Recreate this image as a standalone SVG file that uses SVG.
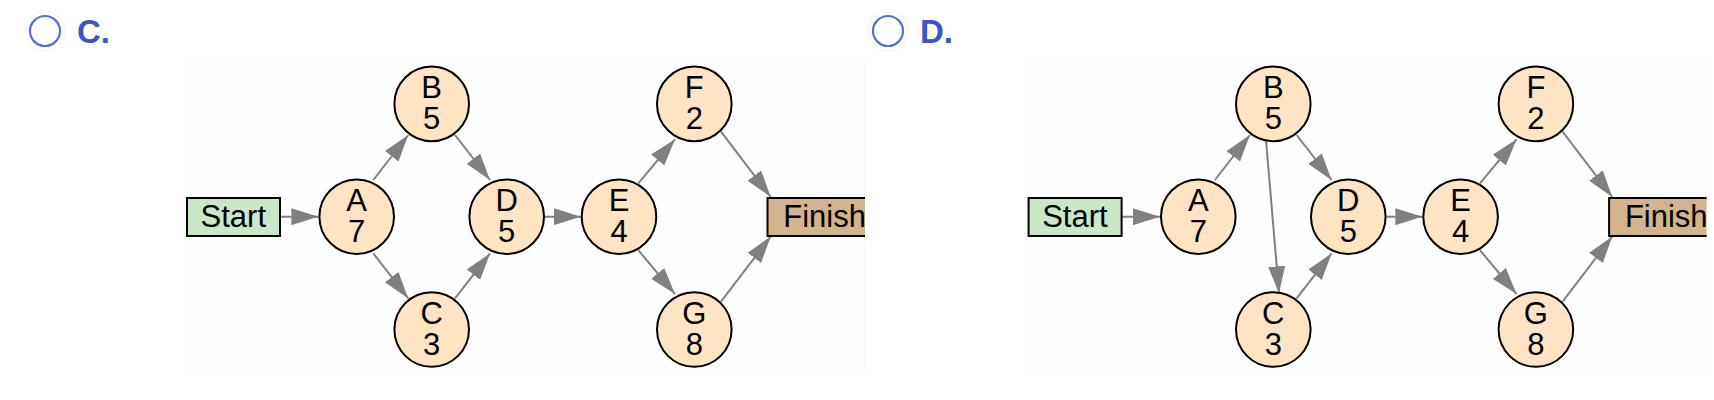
<svg xmlns="http://www.w3.org/2000/svg" width="1714" height="400" viewBox="0 0 1714 400">
<style>
.opt{font-family:"Liberation Sans",Arial,sans-serif;font-weight:bold;font-size:33px;fill:#3a56c9}
.radio{fill:none;stroke:#5670d8;stroke-width:2.2}
.halo{fill:none;stroke:#f3f3f3;stroke-width:1}
.panel{fill:#fefefe;stroke:#f4f4f4;stroke-width:1}
.n{fill:#ffe4c4;stroke:#000;stroke-width:2}
.start{fill:#cbe7c9;stroke:#000;stroke-width:2}
.finish{fill:#d2b48c;stroke:#000;stroke-width:2}
.t{font-family:"Liberation Sans",Arial,sans-serif;font-size:31px;fill:#000;text-anchor:middle}
.e{fill:none;stroke:#808080;stroke-width:2;marker-end:url(#ah)}
</style>
<defs>
<marker id="ah" markerUnits="userSpaceOnUse" markerWidth="27" markerHeight="17" refX="27" refY="8.5" orient="auto">
<path d="M0,0 L27,8.5 L0,17 Z" fill="#808080"/>
</marker>
<clipPath id="pc"><rect x="184.5" y="60" width="680.5" height="312"/></clipPath>
</defs>
<rect width="1714" height="400" fill="#fff"/>

<g id="optC">
<circle class="halo" cx="45" cy="31" r="20"/>
<circle class="radio" cx="45" cy="31" r="15"/>
<text class="opt" x="77" y="43">C.</text>
</g>
<g id="optD">
<circle class="halo" cx="888" cy="31" r="20"/>
<circle class="radio" cx="888" cy="31" r="15"/>
<text class="opt" x="920" y="43">D.</text>
</g>

<g id="panelC" clip-path="url(#pc)">
<rect class="panel" x="184.5" y="60" width="680.5" height="312"/>
<g id="edgesC">
<path class="e" d="M280,216.7 L318.3,216.7"/>
<path class="e" d="M373.3,180 L408.3,135"/>
<path class="e" d="M373.3,253.4 L408.3,298.4"/>
<path class="e" d="M455,135 L490,180"/>
<path class="e" d="M455,298.4 L490,253.4"/>
<path class="e" d="M545,216.7 L580.7,216.7"/>
<path class="e" d="M638.3,183.3 L675,139.3"/>
<path class="e" d="M638.3,250.1 L675,294.1"/>
<path class="e" d="M721,131.7 L770.7,197"/>
<path class="e" d="M721,301.7 L770.7,236.4"/>
</g>
<g id="C-start"><rect class="start" x="187" y="198" width="93" height="38"/><text class="t" x="233.3" y="227">Start</text></g>
<g id="C-A"><circle class="n" cx="356.7" cy="216.7" r="37.3"/><text class="t" x="356.7" y="211.1">A</text><text class="t" x="356.7" y="242.1">7</text></g>
<g id="C-B"><circle class="n" cx="431.7" cy="103.9" r="37.3"/><text class="t" x="431.7" y="98.3">B</text><text class="t" x="431.7" y="129.3">5</text></g>
<g id="C-C"><circle class="n" cx="431.7" cy="329.5" r="37.3"/><text class="t" x="431.7" y="323.9">C</text><text class="t" x="431.7" y="354.9">3</text></g>
<g id="C-D"><circle class="n" cx="506.7" cy="216.7" r="37.3"/><text class="t" x="506.7" y="211.1">D</text><text class="t" x="506.7" y="242.1">5</text></g>
<g id="C-E"><circle class="n" cx="619" cy="216.7" r="37.3"/><text class="t" x="619" y="211.1">E</text><text class="t" x="619" y="242.1">4</text></g>
<g id="C-F"><circle class="n" cx="694.3" cy="103.9" r="37.3"/><text class="t" x="694.3" y="98.3">F</text><text class="t" x="694.3" y="129.3">2</text></g>
<g id="C-G"><circle class="n" cx="694.3" cy="329.5" r="37.3"/><text class="t" x="694.3" y="323.9">G</text><text class="t" x="694.3" y="354.9">8</text></g>
<g id="C-finish"><rect class="finish" x="767.5" y="198" width="115" height="38"/><text class="t" x="783.3" y="227" style="text-anchor:start">Finish</text></g>
</g>

<g id="panelD" transform="translate(841.6,0)" clip-path="url(#pc)">
<rect class="panel" x="184.5" y="60" width="680.5" height="312"/>
<g id="edgesD">
<path class="e" d="M280,216.7 L318.3,216.7"/>
<path class="e" d="M373.3,180 L408.3,135"/>
<path class="e" d="M424.4,140 L437.4,293.3"/>
<path class="e" d="M455,135 L490,180"/>
<path class="e" d="M455,298.4 L490,253.4"/>
<path class="e" d="M545,216.7 L580.7,216.7"/>
<path class="e" d="M638.3,183.3 L675,139.3"/>
<path class="e" d="M638.3,250.1 L675,294.1"/>
<path class="e" d="M721,131.7 L770.7,197"/>
<path class="e" d="M721,301.7 L770.7,236.4"/>
</g>
<g id="D-start"><rect class="start" x="187" y="198" width="93" height="38"/><text class="t" x="233.3" y="227">Start</text></g>
<g id="D-A"><circle class="n" cx="356.7" cy="216.7" r="37.3"/><text class="t" x="356.7" y="211.1">A</text><text class="t" x="356.7" y="242.1">7</text></g>
<g id="D-B"><circle class="n" cx="431.7" cy="103.9" r="37.3"/><text class="t" x="431.7" y="98.3">B</text><text class="t" x="431.7" y="129.3">5</text></g>
<g id="D-C"><circle class="n" cx="431.7" cy="329.5" r="37.3"/><text class="t" x="431.7" y="323.9">C</text><text class="t" x="431.7" y="354.9">3</text></g>
<g id="D-D"><circle class="n" cx="506.7" cy="216.7" r="37.3"/><text class="t" x="506.7" y="211.1">D</text><text class="t" x="506.7" y="242.1">5</text></g>
<g id="D-E"><circle class="n" cx="619" cy="216.7" r="37.3"/><text class="t" x="619" y="211.1">E</text><text class="t" x="619" y="242.1">4</text></g>
<g id="D-F"><circle class="n" cx="694.3" cy="103.9" r="37.3"/><text class="t" x="694.3" y="98.3">F</text><text class="t" x="694.3" y="129.3">2</text></g>
<g id="D-G"><circle class="n" cx="694.3" cy="329.5" r="37.3"/><text class="t" x="694.3" y="323.9">G</text><text class="t" x="694.3" y="354.9">8</text></g>
<g id="D-finish"><rect class="finish" x="767.5" y="198" width="115" height="38"/><text class="t" x="783.3" y="227" style="text-anchor:start">Finish</text></g>
</g>
</svg>
